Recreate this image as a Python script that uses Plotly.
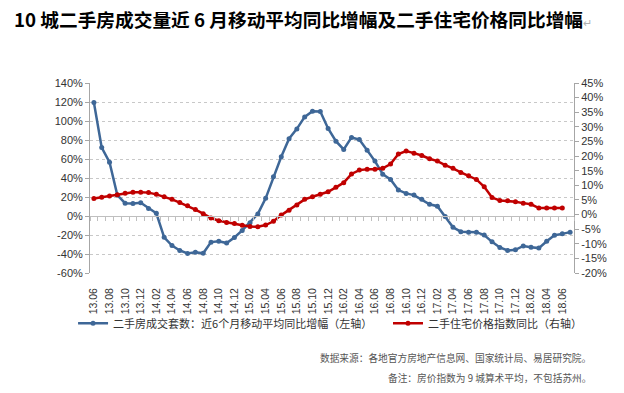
import plotly.graph_objects as go

months = ["13.06", "13.07", "13.08", "13.09", "13.10", "13.11", "13.12",
          "14.01", "14.02", "14.03", "14.04", "14.05", "14.06", "14.07", "14.08", "14.09", "14.10", "14.11", "14.12",
          "15.01", "15.02", "15.03", "15.04", "15.05", "15.06", "15.07", "15.08", "15.09", "15.10", "15.11", "15.12",
          "16.01", "16.02", "16.03", "16.04", "16.05", "16.06", "16.07", "16.08", "16.09", "16.10", "16.11", "16.12",
          "17.01", "17.02", "17.03", "17.04", "17.05", "17.06", "17.07", "17.08", "17.09", "17.10", "17.11", "17.12",
          "18.01", "18.02", "18.03", "18.04", "18.05", "18.06", "18.07"]

tick_labels = ["13.06", "13.08", "13.10", "13.12", "14.02", "14.04", "14.06", "14.08", "14.10", "14.12",
               "15.02", "15.04", "15.06", "15.08", "15.10", "15.12", "16.02", "16.04", "16.06", "16.08",
               "16.10", "16.12", "17.02", "17.04", "17.06", "17.08", "17.10", "17.12", "18.02", "18.04", "18.06"]

# 二手房成交套数：近6个月移动平均同比增幅 (%，左轴)
volume_yoy = [119.4, 72.0, 56.6, 22.0, 13.5, 13.2, 14.0,
              8.0, 2.9, -22.4, -31.1, -36.3, -39.5, -38.2, -39.3, -27.5, -26.6, -28.5,
              -22.6, -15.2, -7.0, 2.2, 18.6, 41.4, 62.4, 81.4, 91.7, 104.3, 110.3, 110.0,
              92.2, 78.8, 70.1, 82.7, 80.5, 69.2, 57.8, 44.0, 38.5, 27.3, 23.8, 22.0,
              17.6, 12.4, 10.3, -0.6, -11.9, -16.5, -17.0, -17.0, -20.0, -27.2, -33.1, -36.3,
              -35.6, -31.5, -32.9, -33.8, -26.6, -20.2, -18.8, -17.0]

# 二手住宅价格指数同比 (%，右轴)
price_yoy = [5.5, 5.9, 6.3, 6.8, 7.3, 7.6, 7.6,
             7.5, 6.9, 6.1, 5.2, 4.1, 3.0, 1.7, 0.3, -1.2, -2.1, -2.7, -3.1,
             -3.7, -4.1, -4.2, -3.6, -2.3, -0.2, 1.5, 3.3, 5.2, 6.1, 6.9,
             7.8, 9.3, 10.9, 13.9, 15.2, 15.5, 15.5, 15.8, 17.3, 20.7, 21.7, 21.0,
             20.2, 19.1, 18.3, 16.9, 15.8, 14.4, 13.3, 12.0, 9.5, 5.8, 4.8, 4.7,
             4.4, 3.9, 3.5, 2.2, 2.2, 2.2, 2.2]

left_ticks = [-60, -40, -20, 0, 20, 40, 60, 80, 100, 120, 140]
right_ticks = [-20, -15, -10, -5, 0, 5, 10, 15, 20, 25, 30, 35, 40, 45]

BLUE = "#3E6797"
RED = "#C00000"
AXIS = "#A6A6A6"
TXT = "#333333"
CJK = "Noto Sans CJK SC"
LAT = "Liberation Sans, Arial, sans-serif"

fig = go.Figure()

fig.add_trace(go.Scatter(
    x=months, y=volume_yoy, name="二手房成交套数：近6个月移动平均同比增幅（左轴）",
    mode="lines+markers", line=dict(color=BLUE, width=2.5),
    marker=dict(color=BLUE, size=5), yaxis="y", legend="legend"))

fig.add_trace(go.Scatter(
    x=months[:len(price_yoy)], y=price_yoy, name="二手住宅价格指数同比（右轴）",
    mode="lines+markers", line=dict(color=RED, width=2.5),
    marker=dict(color=RED, size=5), yaxis="y2", legend="legend2"))

# invisible helper trace for the category axis drawn along 0%
fig.add_trace(go.Scatter(x=[None], y=[None], xaxis="x2", yaxis="y",
                         showlegend=False, hoverinfo="skip"))

n = len(months)
legend_style = dict(orientation="h", y=-0.265, xanchor="left", yanchor="middle",
                    font=dict(family=CJK, size=11, color=TXT), itemwidth=30,
                    bgcolor="rgba(0,0,0,0)")
fig.update_layout(
    width=624, height=393,
    margin=dict(l=90, r=50, t=83, b=120),
    paper_bgcolor="white", plot_bgcolor="white",
    showlegend=True,
    xaxis=dict(type="category", categoryorder="array", categoryarray=months,
               range=[-0.5, n - 0.5], tickmode="array", tickvals=tick_labels,
               ticktext=tick_labels, tickangle=-90, ticks="", showline=False,
               showgrid=False, zeroline=False,
               tickfont=dict(family=LAT, size=10.5, color=TXT), ticklabelstandoff=12),
    xaxis2=dict(overlaying="x", anchor="free", position=(0 - (-60)) / 200.0,
                range=[-0.5, n - 0.5], tickmode="array",
                tickvals=[i - 0.5 for i in range(n + 1)], ticks="outside",
                ticklen=4, tickcolor="#BFBFBF", showticklabels=False,
                showline=True, linecolor="#BFBFBF", linewidth=1,
                showgrid=False, zeroline=False),
    yaxis=dict(range=[-60, 140], tickmode="array", tickvals=left_ticks,
               ticktext=[f"{v}%" for v in left_ticks],
               showgrid=True, gridcolor="#C8C8C8", griddash="dot", gridwidth=1,
               zeroline=False, showline=True, linecolor=AXIS, linewidth=1,
               ticks="outside", ticklen=4, tickcolor=AXIS,
               tickfont=dict(family=LAT, size=11, color=TXT)),
    yaxis2=dict(range=[-20, 45], overlaying="y", side="right", tickmode="array",
                tickvals=right_ticks, ticktext=[f"{v}%" for v in right_ticks],
                showgrid=False, zeroline=False, showline=True, linecolor=AXIS,
                linewidth=1, ticks="outside", ticklen=4, tickcolor=AXIS,
                tickfont=dict(family=LAT, size=11, color=TXT)),
    legend=dict(x=-0.035, **legend_style),
    legend2=dict(x=0.6157, **legend_style),
)

fig.add_annotation(xref="paper", yref="paper", x=-78 / 484, y=1 + 65 / 190,
                   xanchor="left", yanchor="middle", showarrow=False,
                   text="<b>10 城二手房成交量近 6 月移动平均同比增幅及二手住宅价格同比增幅</b><span style='color:#B0B0B0;font-size:11px'>↵</span>",
                   font=dict(family=CJK, size=18.7, color="#000000"))

fig.add_annotation(xref="paper", yref="paper", x=(593 - 90) / 484, y=-(358 - 273) / 190,
                   xanchor="right", yanchor="middle", showarrow=False,
                   text="数据来源：各地官方房地产信息网、国家统计局、易居研究院。",
                   font=dict(family=CJK, size=9.7, color="#555555"))

fig.add_annotation(xref="paper", yref="paper", x=(593 - 90) / 484, y=-(378 - 273) / 190,
                   xanchor="right", yanchor="middle", showarrow=False,
                   text="备注：房价指数为 9 城算术平均，不包括苏州。",
                   font=dict(family=CJK, size=9.7, color="#555555"))

fig.write_html("out.html", post_script="document.body.style.margin='0';",
               config={"displayModeBar": False})
